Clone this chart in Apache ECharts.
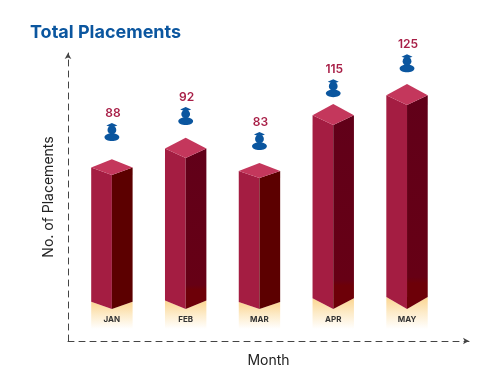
<!DOCTYPE html>
<html>
<head>
<meta charset="utf-8">
<style>html,body{margin:0;padding:0;background:#fff}#c{width:497px;height:392px}</style>
<script src="https://cdn.jsdelivr.net/npm/echarts@6/dist/echarts.min.js"></script>
</head>
<body>
<div id="c"></div>
<script>
// Printed figures
var categories = ['JAN', 'FEB', 'MAR', 'APR', 'MAY'];
var placements = [88, 92, 83, 115, 125];
// Bar tops and marker levels as drawn in the picture, in axis units
var barTops = [86.5, 95.3, 84.9, 112.5, 122.9];
var markerLevels = [104.2, 112.5, 99.5, 127, 140];
var barBase = 16.7;

var chart = echarts.init(document.getElementById('c'), null, {renderer: 'canvas'});
var FONT = 'Inter, "Open Sans", sans-serif';
var BLUE = '#0b569f', CRIMSON = '#a81f47';

function poly(points, fill) {
  return {type: 'polygon', shape: {points: points}, style: {fill: fill}};
}
function vGrad(stops) {
  return new echarts.graphic.LinearGradient(0, 0, 0, 1, stops);
}

function renderBar(params, api) {
  var i = api.value(0), top = api.value(1);
  var p = api.coord([i, top]);
  var b = api.coord([i, barBase]);
  var x = p[0], fy = p[1], by = b[1];
  var hw = 20.7;
  var depth = Math.min(21, 15 + (top - 85) * 0.5);
  var rise = 7 + (top - 85) * 0.13;
  var ly = fy - depth * 0.47;
  var bl = by - rise;
  var tall = top > 90;
  var side = tall
    ? vGrad([{offset: 0, color: '#610019'}, {offset: 0.85, color: '#660015'}, {offset: 0.88, color: '#6d0008'}, {offset: 1, color: '#6d0008'}])
    : '#5c0000';
  return {type: 'group', children: [
    poly([[x - hw, bl], [x, by], [x + hw, bl], [x + hw, by + 20], [x - hw, by + 20]],
      vGrad([{offset: 0, color: '#fbd591'}, {offset: 0.5, color: '#fdeccb'}, {offset: 1, color: '#ffffff'}])),
    poly([[x - hw, ly], [x, fy], [x, by], [x - hw, bl]], '#a41d42'),
    poly([[x + hw, ly], [x, fy], [x, by], [x + hw, bl]], side),
    poly([[x - hw, ly], [x, fy - depth], [x + hw, ly], [x, fy]], '#c4375c'),
    {type: 'text', x: x, y: by + 11, style: {text: categories[i], fill: '#333', font: '700 8px ' + FONT, align: 'center', verticalAlign: 'middle'}}
  ]};
}

function renderMarker(params, api) {
  var i = api.value(0);
  var p = api.coord([i, api.value(3)]);
  var x = p[0], y = p[1];
  return {type: 'group', children: [
    {type: 'ellipse', shape: {cx: x, cy: y - 3.8, rx: 7.4, ry: 3.9}, style: {fill: BLUE}},
    {type: 'circle', shape: {cx: x, cy: y - 11, r: 4.4}, style: {fill: BLUE}},
    poly([[x - 5.5, y - 15.5], [x, y - 18], [x + 5.5, y - 15.5], [x, y - 13.5]], BLUE),
    {type: 'text', x: x + 1, y: y - 28, style: {text: String(api.value(2)), fill: CRIMSON, font: '600 12px ' + FONT, align: 'center', verticalAlign: 'middle'}}
  ]};
}

var rows = categories.map(function (c, i) {
  return [i, barTops[i], placements[i], markerLevels[i]];
});
var axisLine = {
  show: true,
  onZero: false,
  symbol: ['none', 'arrow'],
  symbolSize: [5, 6],
  lineStyle: {color: '#444', width: 1, type: [6, 5]}
};

chart.setOption({
  animation: false,
  backgroundColor: '#fff',
  title: {
    text: 'Total Placements', left: 30, top: 24, padding: 0,
    textStyle: {color: BLUE, fontFamily: FONT, fontWeight: 700, fontSize: 18}
  },
  grid: {left: 68, right: 28, top: 53, bottom: 51},
  xAxis: {
    type: 'value', min: -0.595, max: 4.84,
    name: 'Month', nameLocation: 'middle', nameGap: 13,
    nameTextStyle: {color: '#222', fontFamily: FONT, fontSize: 14},
    axisLine: axisLine, axisTick: {show: false}, axisLabel: {show: false}, splitLine: {show: false}
  },
  yAxis: {
    type: 'value', min: 0, max: 150,
    name: 'No. of Placements', nameLocation: 'middle', nameGap: 12,
    nameTextStyle: {color: '#222', fontFamily: FONT, fontSize: 14},
    axisLine: axisLine, axisTick: {show: false}, axisLabel: {show: false}, splitLine: {show: false}
  },
  series: [
    {type: 'custom', renderItem: renderBar, data: rows, silent: true, clip: false},
    {type: 'custom', renderItem: renderMarker, data: rows, silent: true, clip: false}
  ]
});
</script>
</body>
</html>
